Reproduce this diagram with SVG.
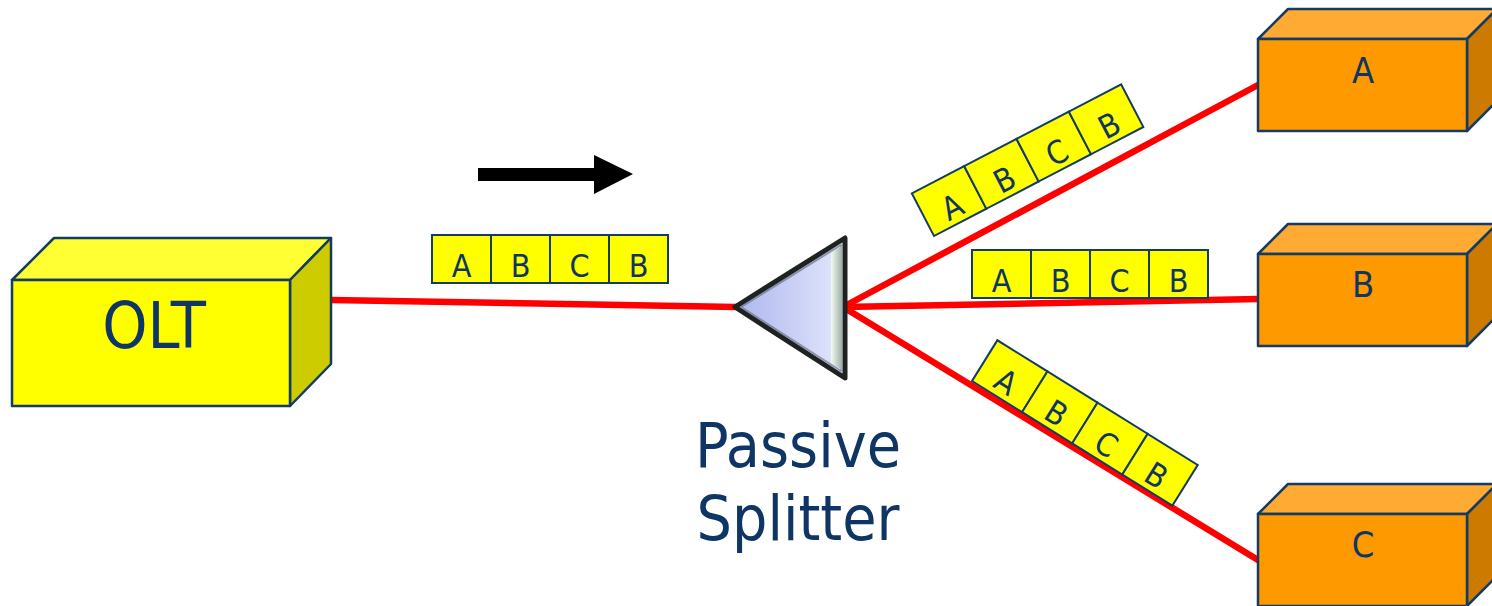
<svg xmlns="http://www.w3.org/2000/svg" width="1492" height="606" viewBox="0 0 1492 606">
<defs>
<style>
.edge{stroke:#123B66;stroke-width:2.5;stroke-linejoin:round}
.txt{font-family:"DejaVu Sans Condensed","DejaVu Sans",sans-serif;fill:#0E3563;text-anchor:middle}
.cell{fill:#FFFF00;stroke:#123B66;stroke-width:2}
.ct{font-family:"DejaVu Sans Condensed","DejaVu Sans",sans-serif;fill:#0E3563;text-anchor:middle;font-size:32px}
.fiber{stroke:#FF0000;stroke-width:6.5;stroke-linecap:round;fill:none}
.onuF{fill:#FF9900}.onuT{fill:#FFAA33}.onuS{fill:#CC7A00}
</style>
<linearGradient id="spl" x1="0" y1="0" x2="1" y2="0">
<stop offset="0" stop-color="#AEB6EE"/>
<stop offset="0.6" stop-color="#CDD3F6"/>
<stop offset="1" stop-color="#E4E9FB"/>
</linearGradient>
<linearGradient id="bev" x1="0" y1="0" x2="1" y2="0">
<stop offset="0" stop-color="#F2FBF4"/>
<stop offset="1" stop-color="#9FB0A8"/>
</linearGradient>
<g id="strip">
<rect class="cell" x="0" y="-48" width="59" height="48"/>
<rect class="cell" x="59" y="-48" width="59" height="48"/>
<rect class="cell" x="118" y="-48" width="59" height="48"/>
<rect class="cell" x="177" y="-48" width="59" height="48"/>
<text class="ct" x="29.5" y="-6">A</text>
<text class="ct" x="88.5" y="-6">B</text>
<text class="ct" x="147.5" y="-6">C</text>
<text class="ct" x="206.5" y="-6">B</text>
</g>
</defs>
<rect width="1492" height="606" fill="#FFFFFF"/>

<g id="connectors">
<line class="fiber" x1="331" y1="300" x2="736" y2="307"/>
<line class="fiber" x1="843" y1="307" x2="1258" y2="85"/>
<line class="fiber" x1="843" y1="307" x2="1258" y2="299"/>
<line class="fiber" x1="843" y1="307" x2="1258" y2="560"/>
</g>

<g id="direction-arrow">
<polygon points="478,168 594,168 594,155 633,174 594,194 594,181 478,181" fill="#000000"/>
</g>

<g id="OLT">
<polygon class="edge" points="12,280 54,238 331,238 290,280" fill="#FFFF33"/>
<polygon class="edge" points="290,280 331,238 331,364 290,406" fill="#CCCC00"/>
<rect class="edge" x="12" y="280" width="278" height="126" fill="#FFFF00"/>
<text class="txt" x="154" y="348" font-size="64">OLT</text>
</g>

<g id="splitter">
<polygon points="735,307 845,238 845,378" fill="url(#spl)" stroke="#1E2220" stroke-width="5" stroke-linejoin="round"/>
<polygon points="741,307 841,245 841,371" fill="none" stroke="#6E7488" stroke-width="2" stroke-linejoin="round" opacity="0.7"/>
<polygon points="831,253 842,246 842,370 831,363" fill="url(#bev)"/>
<text class="txt" x="798" y="467" font-size="62">Passive</text>
<text class="txt" x="798" y="540" font-size="62">Splitter</text>
</g>

<g id="packets-feeder">
<use href="#strip" transform="translate(432,283)"/>
</g>
<g id="packets-A">
<use href="#strip" transform="translate(934,236) rotate(-27.5)"/>
</g>
<g id="packets-B">
<use href="#strip" transform="translate(972,298)"/>
</g>
<g id="packets-C">
<use href="#strip" transform="translate(972,381) rotate(31.9)"/>
</g>

<g id="ONU-A">
<polygon class="edge onuT" points="1258,39 1288,9 1497,9 1467,39"/>
<polygon class="edge onuS" points="1467,39 1497,9 1497,101 1467,131"/>
<rect class="edge onuF" x="1258" y="39" width="209" height="92"/>
<text class="txt" x="1363" y="83" font-size="36">A</text>
</g>
<g id="ONU-B">
<polygon class="edge onuT" points="1258,254 1288,224 1497,224 1467,254"/>
<polygon class="edge onuS" points="1467,254 1497,224 1497,316 1467,346"/>
<rect class="edge onuF" x="1258" y="254" width="209" height="92"/>
<text class="txt" x="1363" y="297" font-size="36">B</text>
</g>
<g id="ONU-C">
<polygon class="edge onuT" points="1258,514 1288,484 1497,484 1467,514"/>
<polygon class="edge onuS" points="1467,514 1497,484 1497,576 1467,606"/>
<rect class="edge onuF" x="1258" y="514" width="209" height="92"/>
<text class="txt" x="1363" y="557" font-size="36">C</text>
</g>
</svg>
